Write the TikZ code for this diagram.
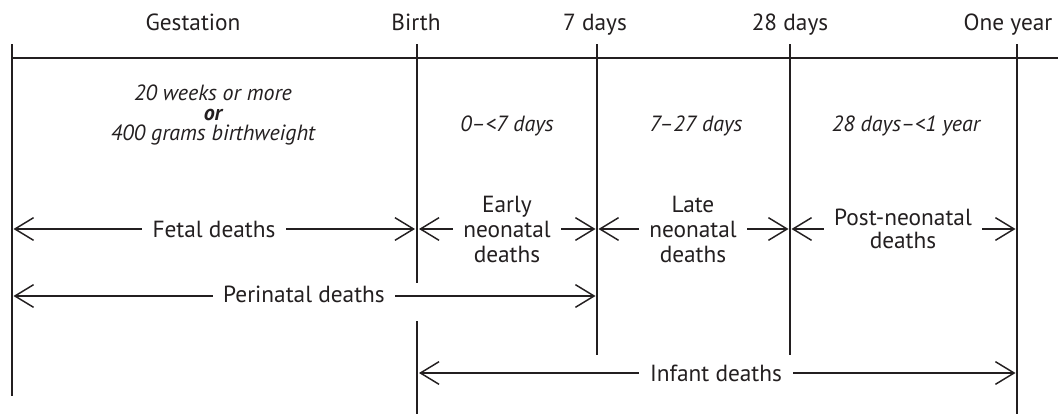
\documentclass[tikz,border=0pt]{standalone}
\usepackage{fontspec}
\setmainfont{PT Sans}
\usetikzlibrary{arrows.meta}
\definecolor{ink}{HTML}{231F20}
\begin{document}
\begin{tikzpicture}[x=0.75pt,y=-0.75pt,
  vline/.style={draw=ink,line width=1.9pt},
  hline/.style={draw=ink,line width=1.5pt},
  span/.style={draw=ink,line width=1.1pt,{Straight Barb[length=14pt,width=17pt]}-{Straight Barb[length=14pt,width=17pt]}},
  head/.style={text=ink,font=\fontsize{17.5}{20}\selectfont,anchor=base,inner sep=0pt},
  lbl/.style={text=ink,font=\fontsize{17.5}{18.75}\selectfont,fill=white,inner xsep=8pt,inner ysep=1pt,align=center},
  note/.style={text=ink,font=\fontsize{16.5}{15}\selectfont\itshape,align=center,inner sep=0pt}]
\useasboundingbox (0,0) rectangle (1058,414);
% timeline
\coordinate (t0) at (12,58);
\coordinate (tend) at (1058,58);
\draw[hline] (t0) -- (tend);
\coordinate (a0) at (12,44);   \coordinate (b0) at (12,396);
\coordinate (a1) at (417,44);  \coordinate (b1) at (417,283);
\coordinate (c1) at (417,321); \coordinate (d1) at (417,414);
\coordinate (a2) at (597,44);  \coordinate (b2) at (597,355);
\coordinate (a3) at (790,44);  \coordinate (b3) at (790,355);
\coordinate (a4) at (1017,44); \coordinate (b4) at (1017,414);
\draw[vline] (a0) -- (b0);
\draw[vline] (a1) -- (b1);
\draw[vline] (c1) -- (d1);
\draw[vline] (a2) -- (b2);
\draw[vline] (a3) -- (b3);
\draw[vline] (a4) -- (b4);
% headings
\node[head] (hg) at (193,31) {Gestation};
\node[head] (hb) at (416,31) {Birth};
\node[head] (h7) at (595,31) {7 days};
\node[head] (h28) at (790,31) {28 days};
\node[head] (hy) at (1008,31) {One year};
% notes
\node[note] (ng) at (213,115) {20 weeks or more\\{\bfseries or}\\400 grams birthweight};
\node[note,anchor=base] (n1) at (507,131) {0--<7 days};
\node[note,anchor=base] (n2) at (696,131) {7--27 days};
\node[note,anchor=base] (n3) at (906,131) {28 days--<1 year};
% arrow end points
\coordinate (f0) at (13.5,229);  \coordinate (f1) at (415,229);
\coordinate (e0) at (419,229);   \coordinate (e1) at (595.5,229);
\coordinate (l0) at (598.5,229); \coordinate (l1) at (788.5,229);
\coordinate (p0) at (791.5,229); \coordinate (p1) at (1015.5,229);
\coordinate (q0) at (13.5,296);  \coordinate (q1) at (595.5,296);
\coordinate (i0) at (419,373);   \coordinate (i1) at (1015.5,373);
\draw[span] (f0) -- (f1);
\draw[span] (e0) -- (e1);
\draw[span] (l0) -- (l1);
\draw[span] (p0) -- (p1);
\draw[span] (q0) -- (q1);
\draw[span] (i0) -- (i1);
% labels
\node[lbl,anchor=base] (fetal) at (214,237) {Fetal deaths};
\node[lbl] (early) at (507,229) {Early\\neonatal\\deaths};
\node[lbl] (late) at (693,229) {Late\\neonatal\\deaths};
\node[lbl,font=\fontsize{17.5}{17.25}\selectfont] (post) at (903,229) {Post-neonatal\\deaths};
\node[lbl,anchor=base] (peri) at (304,302) {Perinatal deaths};
\node[lbl,anchor=base] (inf) at (716,381) {Infant deaths};
\end{tikzpicture}
\end{document}
